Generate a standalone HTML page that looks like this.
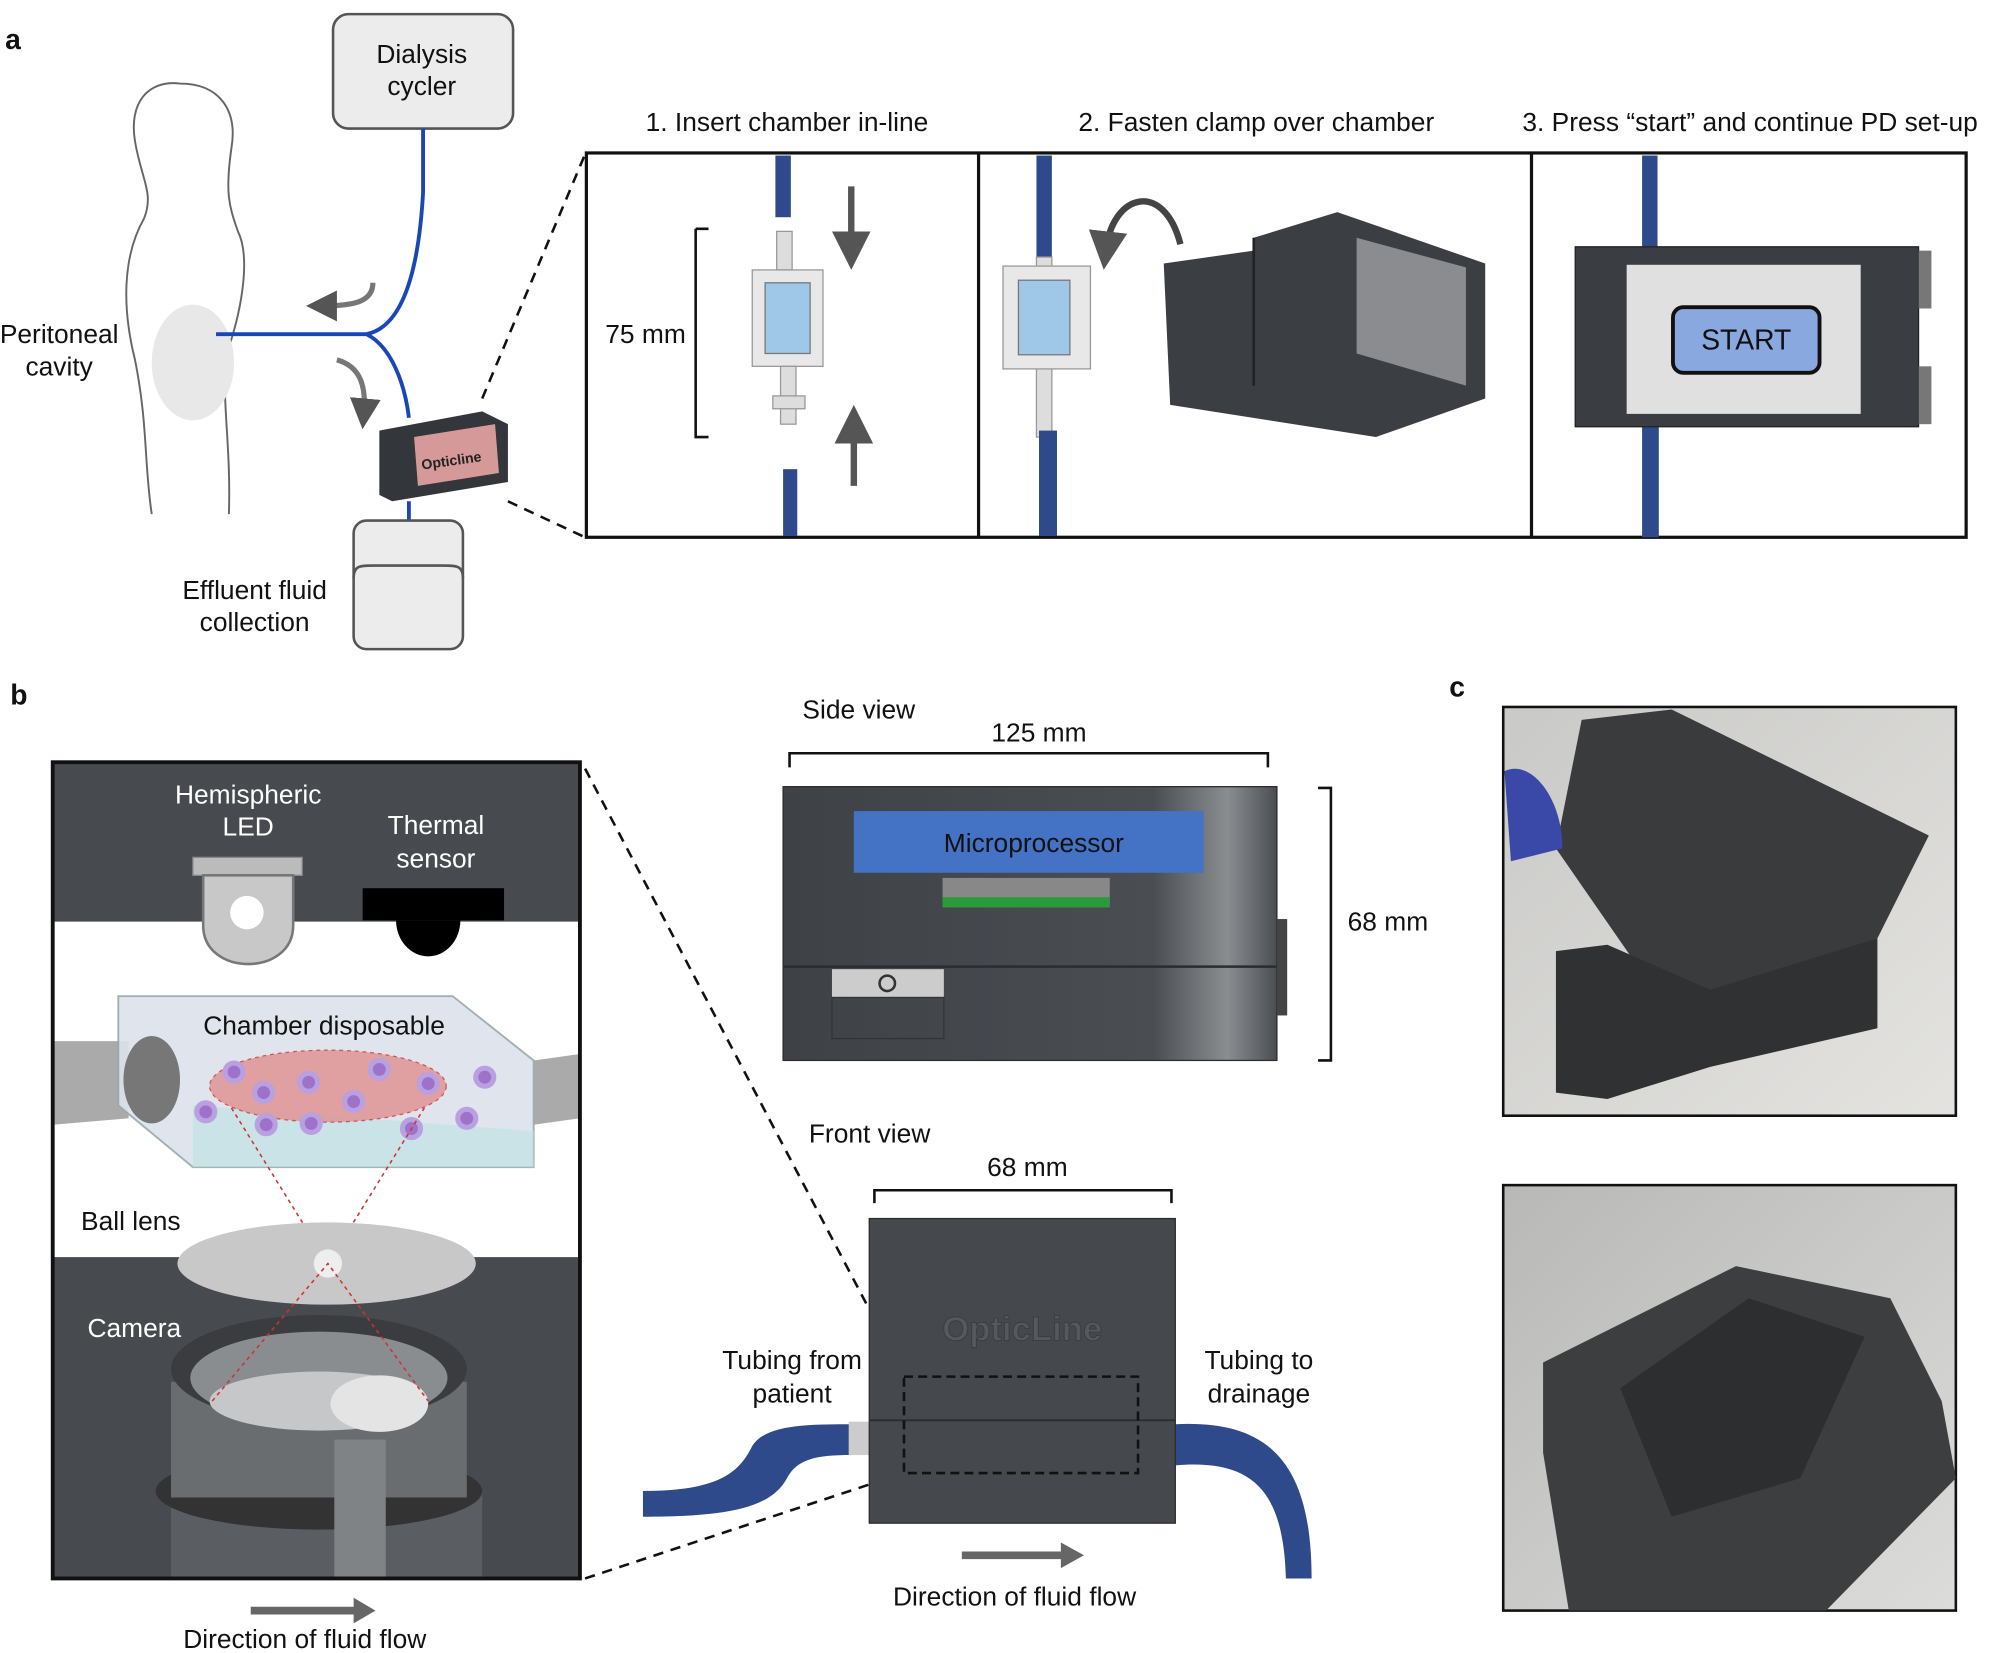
<!DOCTYPE html>
<html><head><meta charset="utf-8"><style>
html,body{margin:0;padding:0;background:#fff;}
svg{display:block;}
text{font-family:"Liberation Sans",Arial,sans-serif;}
</style></head><body>
<svg width="2006" height="1653" viewBox="0 0 1560 1286" preserveAspectRatio="none" xmlns="http://www.w3.org/2000/svg">
<defs>
<linearGradient id="ph1" x1="0" y1="0" x2="1" y2="1"><stop offset="0" stop-color="#c9c9c7"/><stop offset="1" stop-color="#e4e3e0"/></linearGradient>
<linearGradient id="ph2" x1="0" y1="0" x2="1" y2="1"><stop offset="0" stop-color="#b8b8b6"/><stop offset="1" stop-color="#dcdcda"/></linearGradient>
<linearGradient id="sv" x1="0" y1="0" x2="1" y2="0"><stop offset="0" stop-color="#3e4247"/><stop offset="0.75" stop-color="#4a4e53"/><stop offset="0.9" stop-color="#8a8d90"/><stop offset="1" stop-color="#4a4e53"/></linearGradient>
<marker id="ah" markerWidth="6" markerHeight="6" refX="3" refY="3" orient="auto"><path d="M0,0 L6,3 L0,6z" fill="#555"/></marker>
</defs>
<g font-size="20.5" fill="#111">
<text x="4" y="38" font-weight="bold" font-size="22">a</text>
<path d="M140,65 C115,62 100,80 105,110 C110,140 120,150 112,170 C95,200 95,240 105,280 C115,330 112,360 118,400 M140,65 C170,65 185,85 180,115 C175,150 178,160 185,180 C195,200 188,240 178,270 C170,300 180,340 178,400" fill="none" stroke="#666" stroke-width="1.5"/>
<ellipse cx="150" cy="282" rx="32" ry="45" fill="#e8e8e8"/>
<text x="46" y="267" text-anchor="middle">Peritoneal</text>
<text x="46" y="292" text-anchor="middle">cavity</text>
<rect x="259" y="11" width="140" height="89" rx="12" fill="#ececec" stroke="#555" stroke-width="2"/>
<text x="328" y="49" text-anchor="middle">Dialysis</text>
<text x="328" y="74" text-anchor="middle">cycler</text>
<path d="M329,100 L329,150 C325,220 310,255 285,260 L168,260 M285,260 C305,270 315,300 318,325 M318,390 L318,405" fill="none" stroke="#1a47b8" stroke-width="3"/>
<path d="M290,220 C290,235 275,238 250,238" fill="none" stroke="#777" stroke-width="4" marker-end="url(#ah)"/>
<path d="M262,280 C280,285 285,300 283,322" fill="none" stroke="#777" stroke-width="4" marker-end="url(#ah)"/>
<path d="M295,335 L375,320 L395,330 L395,375 L305,390 L295,385z" fill="#33363a"/>
<path d="M322,340 L385,330 L388,368 L325,378z" fill="#d69999"/>
<text x="328" y="362" font-size="11" font-weight="bold" font-family="Liberation Serif" fill="#222" transform="rotate(-8 352 362)">Opticline</text>
<rect x="275" y="405" width="85" height="100" rx="10" fill="#ececec" stroke="#555" stroke-width="2"/>
<path d="M275,450 C275,440 280,440 290,440 L345,440 C355,440 360,440 360,450" fill="none" stroke="#555" stroke-width="2"/>
<text x="198" y="466" text-anchor="middle">Effluent fluid</text>
<text x="198" y="491" text-anchor="middle">collection</text>
<path d="M375,310 L455,120 M395,390 L455,418" stroke="#111" stroke-width="2" stroke-dasharray="8,6"/>
<text x="612" y="102" text-anchor="middle">1. Insert chamber in-line</text>
<text x="977" y="102" text-anchor="middle">2. Fasten clamp over chamber</text>
<text x="1361" y="102" text-anchor="middle">3. Press “start” and continue PD set-up</text>
<rect x="456" y="119" width="1073" height="299" fill="#fff" stroke="#111" stroke-width="2.5"/>
<line x1="761" y1="119" x2="761" y2="418" stroke="#111" stroke-width="2.5"/>
<line x1="1191" y1="119" x2="1191" y2="418" stroke="#111" stroke-width="2.5"/>
<rect x="603" y="121" width="12" height="48" fill="#2f4a8a"/>
<rect x="609" y="365" width="11" height="52" fill="#2f4a8a"/>
<rect x="604" y="180" width="12" height="30" fill="#ddd" stroke="#999"/>
<rect x="585" y="210" width="55" height="75" fill="#e8e8e8" stroke="#999"/>
<rect x="595" y="220" width="35" height="55" fill="#9fc8e8" stroke="#777"/>
<rect x="607" y="285" width="12" height="45" fill="#ddd" stroke="#999"/>
<rect x="601" y="308" width="25" height="10" fill="#ddd" stroke="#999"/>
<path d="M541,178 L551,178 M541,178 L541,340 L551,340" fill="none" stroke="#111" stroke-width="2"/>
<text x="502" y="267" text-anchor="middle">75 mm</text>
<path d="M662,145 L662,195" stroke="#555" stroke-width="5" marker-end="url(#ah)"/>
<path d="M664,378 L664,330" stroke="#555" stroke-width="5" marker-end="url(#ah)"/>
<rect x="806" y="121" width="12" height="80" fill="#2f4a8a"/>
<rect x="806" y="200" width="12" height="140" fill="#ddd" stroke="#999"/>
<rect x="808" y="335" width="14" height="82" fill="#2f4a8a"/>
<rect x="780" y="207" width="68" height="80" fill="#e8e8e8" stroke="#999"/>
<rect x="792" y="218" width="40" height="58" fill="#9fc8e8" stroke="#777"/>
<path d="M918,190 C905,140 865,150 860,195" fill="none" stroke="#444" stroke-width="5" marker-end="url(#ah)"/>
<path d="M975,185 L1040,165 L1155,205 L1155,310 L1070,340 L910,315 L905,205 L975,195z" fill="#3b3e43"/>
<path d="M1055,185 L1140,208 L1140,300 L1055,275z" fill="#8a8c8f"/>
<path d="M975,185 L975,300" stroke="#222" stroke-width="2"/>
<rect x="1277" y="121" width="12" height="72" fill="#2f4a8a"/>
<rect x="1277" y="332" width="13" height="86" fill="#2f4a8a"/>
<rect x="1225" y="192" width="267" height="140" fill="#3a3d42" stroke="#222"/>
<rect x="1492" y="195" width="10" height="45" fill="#777"/>
<rect x="1492" y="285" width="10" height="45" fill="#777"/>
<rect x="1265" y="206" width="182" height="116" fill="#e0e0e0"/>
<rect x="1301" y="239" width="114" height="51" rx="8" fill="#8aa8e0" stroke="#111" stroke-width="3"/>
<text x="1358" y="272" text-anchor="middle" font-size="22">START</text>
<text x="8" y="548" font-weight="bold" font-size="22">b</text>
<text x="1127" y="542" font-weight="bold" font-size="22">c</text>
<rect x="41" y="593" width="410" height="124" fill="#474b50"/>
<rect x="41" y="978" width="410" height="250" fill="#474b50"/>
<text x="193" y="625" text-anchor="middle" fill="#fff">Hemispheric</text>
<text x="193" y="650" text-anchor="middle" fill="#fff">LED</text>
<text x="339" y="649" text-anchor="middle" fill="#fff">Thermal</text>
<text x="339" y="675" text-anchor="middle" fill="#fff">sensor</text>
<rect x="150" y="667" width="85" height="14" fill="#bbb" stroke="#888"/>
<path d="M158,681 L228,681 L228,720 C228,760 158,760 158,720z" fill="#c8c8c8" stroke="#777" stroke-width="2"/>
<circle cx="192" cy="710" r="13" fill="#fff"/>
<rect x="282" y="691" width="110" height="25" fill="#000"/>
<path d="M308,716 A25,28 0 0 0 358,716z" fill="#000"/>
<path d="M41,810 L100,810 L100,870 L41,875z" fill="#aaa"/>
<path d="M415,825 L451,820 L451,870 L415,875z" fill="#aaa"/>
<path d="M92,775 L352,775 L415,825 L415,908 L150,908 L92,860z" fill="#dde3ec" stroke="#9aa" stroke-width="1.5" opacity="0.9"/>
<path d="M150,860 L415,880 L415,908 L150,908z" fill="#bfe3e3" opacity="0.7"/>
<ellipse cx="118" cy="840" rx="22" ry="34" fill="#777"/>
<ellipse cx="255" cy="845" rx="92" ry="28" fill="#e09090" stroke="#c33" stroke-dasharray="3,3" opacity="0.8"/>
<g fill="#9d72c8" stroke="#b9a0e0" stroke-width="4">
<circle cx="182" cy="834" r="7"/><circle cx="240" cy="842" r="7"/><circle cx="295" cy="832" r="7"/><circle cx="333" cy="843" r="7"/><circle cx="377" cy="838" r="7"/>
<circle cx="205" cy="850" r="7"/><circle cx="275" cy="857" r="7"/><circle cx="160" cy="865" r="7"/><circle cx="207" cy="875" r="7"/><circle cx="242" cy="874" r="7"/><circle cx="320" cy="878" r="7"/><circle cx="363" cy="870" r="7"/>
</g>
<text x="252" y="805" text-anchor="middle">Chamber disposable</text>
<path d="M180,862 L255,983 L330,862" fill="none" stroke="#c33" stroke-width="1.2" stroke-dasharray="3,3"/>
<text x="63" y="957">Ball lens</text>
<ellipse cx="254" cy="983" rx="116" ry="32" fill="#c8c8c8"/>
<circle cx="255" cy="983" r="11" fill="#eee"/>
<text x="68" y="1040" fill="#fff">Camera</text>
<rect x="133" y="1160" width="242" height="68" fill="#5a5d61"/>
<ellipse cx="248" cy="1160" rx="127" ry="30" fill="#333"/>
<rect x="133" y="1075" width="230" height="90" fill="#6a6d70"/>
<ellipse cx="248" cy="1065" rx="115" ry="42" fill="#3a3c3f"/>
<ellipse cx="248" cy="1072" rx="100" ry="36" fill="#8a8d90"/>
<ellipse cx="248" cy="1090" rx="85" ry="23" fill="#c5c7c9"/>
<ellipse cx="295" cy="1092" rx="38" ry="22" fill="#e4e4e4"/>
<rect x="260" y="1120" width="40" height="108" fill="#808386"/>
<path d="M165,1090 L255,983 L333,1090" fill="none" stroke="#c33" stroke-width="1.2" stroke-dasharray="3,3"/>
<rect x="41" y="593" width="410" height="635" fill="none" stroke="#111" stroke-width="3"/>
<path d="M195,1253 L278,1253" stroke="#666" stroke-width="6"/><path d="M275,1243 L292,1253 L275,1263z" fill="#666"/>
<text x="237" y="1282" text-anchor="middle">Direction of fluid flow</text>
<path d="M455,598 L703,1070 M455,1228 L703,1146" stroke="#111" stroke-width="2" stroke-dasharray="8,6"/>
<text x="624" y="559">Side view</text>
<text x="808" y="577" text-anchor="middle">125 mm</text>
<path d="M614,597 L614,586 L986,586 L986,597" fill="none" stroke="#111" stroke-width="2"/>
<rect x="609" y="612" width="384" height="213" fill="url(#sv)" stroke="#2a2c2f"/>
<line x1="609" y1="752" x2="993" y2="752" stroke="#2a2c2f" stroke-width="2"/>
<rect x="647" y="754" width="87" height="22" fill="#ccc"/>
<circle cx="690" cy="765" r="6" fill="none" stroke="#333" stroke-width="2"/>
<rect x="647" y="776" width="87" height="32" fill="none" stroke="#333"/>
<rect x="993" y="715" width="8" height="75" fill="#444"/>
<rect x="664" y="631" width="272" height="48" fill="#4472c4"/>
<text x="804" y="663" text-anchor="middle">Microprocessor</text>
<rect x="733" y="683" width="130" height="22" fill="#888"/>
<rect x="733" y="698" width="130" height="8" fill="#2a9a3a"/>
<path d="M1025,613 L1035,613 L1035,825 L1025,825" fill="none" stroke="#111" stroke-width="2"/>
<text x="1048" y="724">68 mm</text>
<text x="629" y="889">Front view</text>
<text x="799" y="915" text-anchor="middle">68 mm</text>
<path d="M680,936 L680,926 L911,926 L911,936" fill="none" stroke="#111" stroke-width="2"/>
<path d="M500,1160 C560,1160 575,1145 585,1125 C595,1108 630,1108 662,1108 L662,1132 C635,1132 620,1135 612,1150 C600,1172 570,1180 500,1180z" fill="#2f4a8a"/>
<rect x="660" y="1106" width="18" height="26" fill="#ccc"/>
<path d="M914,1108 C980,1105 1020,1130 1020,1228 L1000,1228 C998,1160 975,1135 914,1140z" fill="#2f4a8a"/>
<rect x="676" y="948" width="238" height="237" fill="#45494e" stroke="#2a2c2f"/>
<line x1="676" y1="1105" x2="914" y2="1105" stroke="#2a2c2f" stroke-width="1.5"/>
<text x="795" y="1043" text-anchor="middle" font-family="Liberation Serif" font-size="27" font-weight="bold" fill="#55595e" stroke="#3a3d41" stroke-width="0.8">OpticLine</text>
<rect x="703" y="1071" width="182" height="75" fill="none" stroke="#111" stroke-width="2" stroke-dasharray="7,4"/>
<text x="616" y="1065" text-anchor="middle">Tubing from</text>
<text x="616" y="1091" text-anchor="middle">patient</text>
<text x="979" y="1065" text-anchor="middle">Tubing to</text>
<text x="979" y="1091" text-anchor="middle">drainage</text>
<path d="M748,1210 L828,1210" stroke="#666" stroke-width="6"/><path d="M825,1200 L843,1210 L825,1220z" fill="#666"/>
<text x="789" y="1249" text-anchor="middle">Direction of fluid flow</text>
<rect x="1169" y="550" width="352" height="318" fill="url(#ph1)" stroke="#111" stroke-width="2"/>
<path d="M1230,560 L1300,552 L1500,650 L1460,730 L1300,790 L1210,660z" fill="#3a3b3d"/>
<path d="M1210,740 L1250,735 L1330,770 L1460,730 L1460,800 L1330,830 L1250,855 L1210,850z" fill="#303133"/>
<path d="M1170,600 C1190,590 1215,620 1215,660 L1175,670z" fill="#3a48a8"/>
<rect x="1169" y="922" width="352" height="331" fill="url(#ph2)" stroke="#111" stroke-width="2"/>
<path d="M1200,1060 L1350,985 L1470,1010 L1510,1090 L1521,1150 L1420,1253 L1220,1253 L1200,1130z" fill="#3d3e40"/>
<path d="M1260,1080 L1360,1010 L1450,1040 L1400,1150 L1300,1180z" fill="#2d2e30"/>
</g>
</svg>
</body></html>
